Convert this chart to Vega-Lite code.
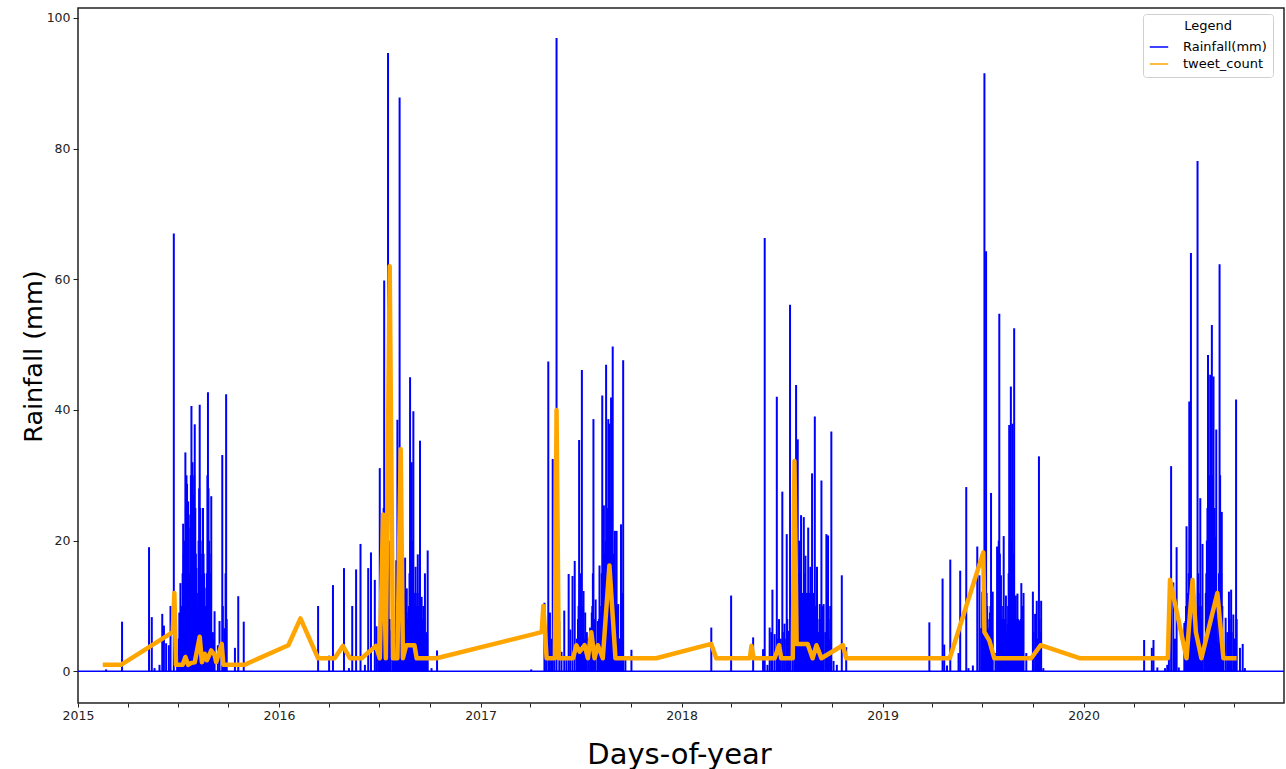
{
  "$schema": "https://vega.github.io/schema/vega-lite/v6.json",
  "width": 1206,
  "height": 695,
  "autosize": {"type": "none"},
  "padding": {"left": 78, "top": 8, "right": 2, "bottom": 66},
  "background": "white",
  "config": {
    "font": "DejaVu Sans",
    "view": {"stroke": "#222222", "strokeWidth": 1.5},
    "axis": {"domain": false, "grid": false, "tickColor": "#222222", "labelColor": "#222222", "titleColor": "#000000", "labelFontSize": 12.5, "labelFont": "DejaVu Sans", "titleFontWeight": "normal"}
  },
  "datasets": {
    "rain": [
      {"d":"2015-02-21","r":0.3},{"d":"2015-03-22","r":7.6},{"d":"2015-05-10","r":19},{"d":"2015-05-15","r":8.3},{"d":"2015-05-20","r":0.5},{"d":"2015-05-29","r":1},{"d":"2015-06-03","r":8.8},{"d":"2015-06-06","r":7},{"d":"2015-06-10","r":4.3},{"d":"2015-06-15","r":4},{"d":"2015-06-18","r":10},{"d":"2015-06-24","r":67},{"d":"2015-06-30","r":2},{"d":"2015-07-03","r":5},{"d":"2015-07-06","r":13.5},{"d":"2015-07-09","r":8},{"d":"2015-07-11","r":22.6},{"d":"2015-07-13","r":12},{"d":"2015-07-15","r":33.5},{"d":"2015-07-18","r":28.7},{"d":"2015-07-21","r":24},{"d":"2015-07-23","r":10},{"d":"2015-07-26","r":40.6},{"d":"2015-07-29","r":27},{"d":"2015-08-01","r":37.8},{"d":"2015-08-04","r":15.8},{"d":"2015-08-07","r":9},{"d":"2015-08-10","r":40.8},{"d":"2015-08-13","r":14.8},{"d":"2015-08-16","r":25},{"d":"2015-08-19","r":12.8},{"d":"2015-08-22","r":8.7},{"d":"2015-08-25","r":42.7},{"d":"2015-08-28","r":18},{"d":"2015-08-31","r":26.8},{"d":"2015-09-03","r":6},{"d":"2015-09-06","r":9.2},{"d":"2015-09-12","r":4},{"d":"2015-09-15","r":7.7},{"d":"2015-09-20","r":33.1},{"d":"2015-09-24","r":6.6},{"d":"2015-09-27","r":42.4},{"d":"2015-10-13","r":3.6},{"d":"2015-10-19","r":11.5},{"d":"2015-10-29","r":7.6},
      {"d":"2016-03-12","r":10},{"d":"2016-04-01","r":2.4},{"d":"2016-04-08","r":13.2},{"d":"2016-04-28","r":15.8},{"d":"2016-05-07","r":0.5},{"d":"2016-05-13","r":10},{"d":"2016-05-20","r":15.6},{"d":"2016-05-28","r":19.5},{"d":"2016-06-05","r":1},{"d":"2016-06-11","r":15.8},{"d":"2016-06-16","r":18.2},{"d":"2016-06-23","r":14},{"d":"2016-06-26","r":6.9},{"d":"2016-06-29","r":3},{"d":"2016-07-02","r":31.1},{"d":"2016-07-05","r":8},{"d":"2016-07-07","r":12},{"d":"2016-07-10","r":59.8},{"d":"2016-07-13","r":24.3},{"d":"2016-07-15","r":10},{"d":"2016-07-17","r":94.6},{"d":"2016-07-20","r":8},{"d":"2016-07-22","r":6.3},{"d":"2016-07-26","r":3.7},{"d":"2016-07-29","r":5},{"d":"2016-08-01","r":17},{"d":"2016-08-03","r":38.5},{"d":"2016-08-05","r":10},{"d":"2016-08-07","r":87.8},{"d":"2016-08-09","r":12},{"d":"2016-08-11","r":24},{"d":"2016-08-14","r":8},{"d":"2016-08-17","r":17.4},{"d":"2016-08-20","r":12.7},{"d":"2016-08-23","r":9},{"d":"2016-08-26","r":45},{"d":"2016-08-29","r":32},{"d":"2016-09-01","r":39.8},{"d":"2016-09-03","r":10},{"d":"2016-09-05","r":16},{"d":"2016-09-07","r":8},{"d":"2016-09-09","r":17.9},{"d":"2016-09-11","r":6},{"d":"2016-09-13","r":35.3},{"d":"2016-09-16","r":11.4},{"d":"2016-09-19","r":10},{"d":"2016-09-22","r":15},{"d":"2016-09-25","r":6},{"d":"2016-09-27","r":18.5},{"d":"2016-10-04","r":0.5},{"d":"2016-10-14","r":3.2},
      {"d":"2017-04-03","r":0.3},{"d":"2017-04-27","r":10.5},{"d":"2017-04-30","r":4},{"d":"2017-05-04","r":47.4},{"d":"2017-05-07","r":9},{"d":"2017-05-10","r":5},{"d":"2017-05-12","r":32.5},{"d":"2017-05-15","r":7.7},{"d":"2017-05-19","r":96.9},{"d":"2017-05-24","r":7.7},{"d":"2017-05-28","r":3},{"d":"2017-06-02","r":9.3},{"d":"2017-06-06","r":1.8},{"d":"2017-06-10","r":14.9},{"d":"2017-06-13","r":6.4},{"d":"2017-06-17","r":14.6},{"d":"2017-06-21","r":16.9},{"d":"2017-06-25","r":5},{"d":"2017-06-27","r":8},{"d":"2017-06-29","r":35.4},{"d":"2017-07-01","r":10},{"d":"2017-07-04","r":46.1},{"d":"2017-07-07","r":12.3},{"d":"2017-07-10","r":9},{"d":"2017-07-13","r":6},{"d":"2017-07-16","r":5},{"d":"2017-07-19","r":6.7},{"d":"2017-07-22","r":9},{"d":"2017-07-25","r":38.6},{"d":"2017-07-29","r":11},{"d":"2017-08-02","r":7.7},{"d":"2017-08-05","r":16.2},{"d":"2017-08-07","r":9},{"d":"2017-08-10","r":42.2},{"d":"2017-08-13","r":25.4},{"d":"2017-08-15","r":12},{"d":"2017-08-17","r":46.9},{"d":"2017-08-19","r":15},{"d":"2017-08-21","r":38.6},{"d":"2017-08-23","r":37.9},{"d":"2017-08-26","r":41.9},{"d":"2017-08-29","r":49.7},{"d":"2017-09-02","r":21.5},{"d":"2017-09-05","r":21.5},{"d":"2017-09-08","r":10.3},{"d":"2017-09-11","r":5},{"d":"2017-09-13","r":22.5},{"d":"2017-09-17","r":47.6},{"d":"2017-09-21","r":1.8},{"d":"2017-10-02","r":3.3},
      {"d":"2018-02-24","r":6.7},{"d":"2018-04-01","r":11.6},{"d":"2018-05-11","r":5.2},{"d":"2018-05-29","r":3.4},{"d":"2018-06-01","r":66.3},{"d":"2018-06-06","r":1},{"d":"2018-06-10","r":6.7},{"d":"2018-06-13","r":6},{"d":"2018-06-15","r":12.5},{"d":"2018-06-19","r":5.7},{"d":"2018-06-23","r":42},{"d":"2018-06-27","r":8},{"d":"2018-06-29","r":4.4},{"d":"2018-07-03","r":27.5},{"d":"2018-07-07","r":7.3},{"d":"2018-07-11","r":21},{"d":"2018-07-14","r":6.2},{"d":"2018-07-17","r":56.1},{"d":"2018-07-22","r":8.8},{"d":"2018-07-25","r":10},{"d":"2018-07-28","r":43.8},{"d":"2018-07-31","r":35.5},{"d":"2018-08-03","r":20},{"d":"2018-08-06","r":23.9},{"d":"2018-08-09","r":12},{"d":"2018-08-11","r":23.6},{"d":"2018-08-14","r":17.7},{"d":"2018-08-17","r":10},{"d":"2018-08-19","r":22},{"d":"2018-08-21","r":10},{"d":"2018-08-23","r":16},{"d":"2018-08-26","r":30.3},{"d":"2018-08-28","r":8},{"d":"2018-08-31","r":39},{"d":"2018-09-02","r":10},{"d":"2018-09-04","r":16},{"d":"2018-09-07","r":6},{"d":"2018-09-09","r":10.3},{"d":"2018-09-12","r":29.2},{"d":"2018-09-16","r":10.3},{"d":"2018-09-19","r":6},{"d":"2018-09-21","r":21},{"d":"2018-09-24","r":20.8},{"d":"2018-09-27","r":5},{"d":"2018-09-30","r":36.7},{"d":"2018-10-04","r":1.6},{"d":"2018-10-10","r":1},{"d":"2018-10-19","r":14.7},{"d":"2018-10-27","r":3.7},
      {"d":"2019-03-27","r":7.5},{"d":"2019-04-20","r":14.2},{"d":"2019-04-23","r":4.1},{"d":"2019-04-28","r":0.9},{"d":"2019-05-04","r":17.1},{"d":"2019-05-19","r":2.8},{"d":"2019-05-22","r":15.4},{"d":"2019-06-02","r":28.2},{"d":"2019-06-06","r":0.5},{"d":"2019-06-14","r":0.9},{"d":"2019-06-22","r":19.1},{"d":"2019-06-26","r":14.7},{"d":"2019-06-29","r":6.6},{"d":"2019-07-01","r":12.2},{"d":"2019-07-03","r":8},{"d":"2019-07-05","r":91.5},{"d":"2019-07-08","r":64.3},{"d":"2019-07-10","r":10},{"d":"2019-07-12","r":6.6},{"d":"2019-07-15","r":9},{"d":"2019-07-17","r":27.3},{"d":"2019-07-20","r":12.2},{"d":"2019-07-25","r":2.8},{"d":"2019-07-28","r":19.1},{"d":"2019-08-01","r":54.7},{"d":"2019-08-04","r":14.7},{"d":"2019-08-07","r":8},{"d":"2019-08-09","r":20.7},{"d":"2019-08-13","r":11.6},{"d":"2019-08-16","r":7.2},{"d":"2019-08-19","r":37.7},{"d":"2019-08-22","r":43.6},{"d":"2019-08-25","r":37.9},{"d":"2019-08-28","r":52.5},{"d":"2019-08-31","r":11.6},{"d":"2019-09-03","r":11.9},{"d":"2019-09-07","r":7.8},{"d":"2019-09-10","r":13.5},{"d":"2019-09-14","r":12},{"d":"2019-09-19","r":2.8},{"d":"2019-10-01","r":12.2},{"d":"2019-10-05","r":8.8},{"d":"2019-10-08","r":10.8},{"d":"2019-10-12","r":32.9},{"d":"2019-10-16","r":10.8},{"d":"2019-10-20","r":0.5},
      {"d":"2020-04-20","r":4.8},{"d":"2020-05-04","r":3.6},{"d":"2020-05-07","r":4.8},{"d":"2020-05-14","r":0.6},{"d":"2020-05-28","r":0.5},{"d":"2020-06-01","r":1},{"d":"2020-06-04","r":2.3},{"d":"2020-06-08","r":31.4},{"d":"2020-06-12","r":13.6},{"d":"2020-06-15","r":5},{"d":"2020-06-18","r":19},{"d":"2020-06-22","r":0.6},{"d":"2020-07-02","r":7.4},{"d":"2020-07-04","r":7.7},{"d":"2020-07-06","r":22.2},{"d":"2020-07-09","r":8},{"d":"2020-07-11","r":41.3},{"d":"2020-07-14","r":64},{"d":"2020-07-18","r":12},{"d":"2020-07-21","r":8},{"d":"2020-07-23","r":6.6},{"d":"2020-07-26","r":78.1},{"d":"2020-07-29","r":10},{"d":"2020-07-31","r":26.5},{"d":"2020-08-04","r":19.5},{"d":"2020-08-07","r":4.4},{"d":"2020-08-10","r":12},{"d":"2020-08-14","r":48.4},{"d":"2020-08-16","r":20},{"d":"2020-08-18","r":45.4},{"d":"2020-08-21","r":53},{"d":"2020-08-24","r":45.1},{"d":"2020-08-27","r":20.6},{"d":"2020-08-29","r":37},{"d":"2020-09-01","r":4.4},{"d":"2020-09-04","r":62.3},{"d":"2020-09-08","r":24.4},{"d":"2020-09-11","r":3},{"d":"2020-09-15","r":8.2},{"d":"2020-09-18","r":6},{"d":"2020-09-21","r":12.2},{"d":"2020-09-25","r":12.5},{"d":"2020-09-29","r":8.7},{"d":"2020-10-04","r":41.6},{"d":"2020-10-11","r":3.6},{"d":"2020-10-16","r":4.2},{"d":"2020-10-20","r":0.5},
      {"d":"2015-07-04","r":9},{"d":"2015-07-07","r":10},{"d":"2015-07-10","r":15},{"d":"2015-07-12","r":18},{"d":"2015-07-14","r":20},{"d":"2015-07-16","r":25},{"d":"2015-07-17","r":30},{"d":"2015-07-19","r":20},{"d":"2015-07-20","r":26},{"d":"2015-07-22","r":15},{"d":"2015-07-24","r":22},{"d":"2015-07-25","r":30},{"d":"2015-07-27","r":20},{"d":"2015-07-28","r":32},{"d":"2015-07-30","r":22},{"d":"2015-07-31","r":30},{"d":"2015-08-02","r":25},{"d":"2015-08-03","r":18},{"d":"2015-08-05","r":12},{"d":"2015-08-06","r":10},{"d":"2015-08-08","r":20},{"d":"2015-08-09","r":28},{"d":"2015-08-11","r":25},{"d":"2015-08-12","r":18},{"d":"2015-08-14","r":12},{"d":"2015-08-15","r":20},{"d":"2015-08-17","r":18},{"d":"2015-08-18","r":15},{"d":"2015-08-20","r":10},{"d":"2015-08-21","r":6},{"d":"2015-08-23","r":15},{"d":"2015-08-24","r":30},{"d":"2015-08-26","r":28},{"d":"2015-08-27","r":20},{"d":"2015-08-29","r":15},{"d":"2015-08-30","r":10},{"d":"2015-09-01","r":5},{"d":"2015-09-02","r":4},{"d":"2015-09-04","r":3},{"d":"2015-09-05","r":5},{"d":"2015-09-21","r":10},{"d":"2015-09-22","r":4},{"d":"2015-09-26","r":15},{"d":"2015-09-28","r":8},
      {"d":"2016-07-03","r":10},{"d":"2016-07-04","r":6},{"d":"2016-07-06","r":15},{"d":"2016-07-08","r":20},{"d":"2016-07-09","r":25},{"d":"2016-07-11","r":15},{"d":"2016-07-12","r":10},{"d":"2016-07-14","r":12},{"d":"2016-07-16","r":18},{"d":"2016-07-18","r":20},{"d":"2016-07-19","r":8},{"d":"2016-07-21","r":5},{"d":"2016-07-30","r":4},{"d":"2016-08-02","r":10},{"d":"2016-08-04","r":15},{"d":"2016-08-06","r":20},{"d":"2016-08-08","r":15},{"d":"2016-08-10","r":10},{"d":"2016-08-12","r":8},{"d":"2016-08-13","r":6},{"d":"2016-08-15","r":10},{"d":"2016-08-16","r":12},{"d":"2016-08-18","r":8},{"d":"2016-08-19","r":10},{"d":"2016-08-21","r":6},{"d":"2016-08-22","r":8},{"d":"2016-08-24","r":10},{"d":"2016-08-25","r":15},{"d":"2016-08-27","r":20},{"d":"2016-08-28","r":15},{"d":"2016-08-30","r":12},{"d":"2016-08-31","r":20},{"d":"2016-09-02","r":12},{"d":"2016-09-04","r":8},{"d":"2016-09-06","r":10},{"d":"2016-09-08","r":12},{"d":"2016-09-10","r":10},{"d":"2016-09-12","r":12},{"d":"2016-09-14","r":8},{"d":"2016-09-15","r":6},{"d":"2016-09-17","r":8},{"d":"2016-09-18","r":6},{"d":"2016-09-20","r":5},{"d":"2016-09-21","r":8},{"d":"2016-09-23","r":5},{"d":"2016-09-24","r":4},{"d":"2016-09-26","r":5},
      {"d":"2017-06-26","r":4},{"d":"2017-06-28","r":10},{"d":"2017-06-30","r":12},{"d":"2017-07-02","r":15},{"d":"2017-07-03","r":8},{"d":"2017-07-05","r":10},{"d":"2017-07-06","r":6},{"d":"2017-07-08","r":5},{"d":"2017-07-11","r":4},{"d":"2017-07-20","r":5},{"d":"2017-07-23","r":10},{"d":"2017-07-24","r":15},{"d":"2017-07-26","r":8},{"d":"2017-07-27","r":6},{"d":"2017-07-28","r":5},{"d":"2017-08-03","r":5},{"d":"2017-08-04","r":8},{"d":"2017-08-06","r":6},{"d":"2017-08-08","r":10},{"d":"2017-08-09","r":15},{"d":"2017-08-11","r":12},{"d":"2017-08-12","r":15},{"d":"2017-08-14","r":18},{"d":"2017-08-16","r":20},{"d":"2017-08-18","r":15},{"d":"2017-08-20","r":25},{"d":"2017-08-22","r":20},{"d":"2017-08-24","r":25},{"d":"2017-08-25","r":20},{"d":"2017-08-27","r":25},{"d":"2017-08-28","r":20},{"d":"2017-08-30","r":18},{"d":"2017-08-31","r":12},{"d":"2017-09-01","r":15},{"d":"2017-09-03","r":10},{"d":"2017-09-04","r":8},{"d":"2017-09-06","r":10},{"d":"2017-09-07","r":8},{"d":"2017-09-09","r":5},{"d":"2017-09-14","r":10},{"d":"2017-09-15","r":8},{"d":"2017-09-16","r":12},
      {"d":"2018-06-24","r":5},{"d":"2018-06-30","r":5},{"d":"2018-07-04","r":6},{"d":"2018-07-10","r":5},{"d":"2018-07-12","r":8},{"d":"2018-07-18","r":8},{"d":"2018-07-26","r":12},{"d":"2018-07-27","r":10},{"d":"2018-07-29","r":15},{"d":"2018-07-30","r":20},{"d":"2018-08-01","r":15},{"d":"2018-08-02","r":12},{"d":"2018-08-04","r":15},{"d":"2018-08-05","r":10},{"d":"2018-08-07","r":12},{"d":"2018-08-08","r":8},{"d":"2018-08-10","r":10},{"d":"2018-08-12","r":15},{"d":"2018-08-13","r":10},{"d":"2018-08-15","r":12},{"d":"2018-08-16","r":8},{"d":"2018-08-18","r":12},{"d":"2018-08-20","r":8},{"d":"2018-08-22","r":12},{"d":"2018-08-24","r":10},{"d":"2018-08-25","r":12},{"d":"2018-08-27","r":10},{"d":"2018-08-29","r":12},{"d":"2018-08-30","r":8},{"d":"2018-09-01","r":8},{"d":"2018-09-03","r":6},{"d":"2018-09-05","r":8},{"d":"2018-09-06","r":5},{"d":"2018-09-10","r":6},{"d":"2018-09-11","r":8},{"d":"2018-09-13","r":10},{"d":"2018-09-14","r":5},{"d":"2018-09-22","r":10},{"d":"2018-09-23","r":12},{"d":"2018-09-25","r":8},{"d":"2018-09-28","r":10},{"d":"2018-09-29","r":6},
      {"d":"2019-07-02","r":6},{"d":"2019-07-04","r":10},{"d":"2019-07-06","r":20},{"d":"2019-07-07","r":15},{"d":"2019-07-09","r":12},{"d":"2019-07-11","r":8},{"d":"2019-07-13","r":5},{"d":"2019-07-16","r":10},{"d":"2019-07-18","r":8},{"d":"2019-07-19","r":6},{"d":"2019-07-29","r":8},{"d":"2019-07-30","r":15},{"d":"2019-07-31","r":20},{"d":"2019-08-02","r":18},{"d":"2019-08-03","r":10},{"d":"2019-08-05","r":8},{"d":"2019-08-06","r":6},{"d":"2019-08-08","r":10},{"d":"2019-08-10","r":8},{"d":"2019-08-11","r":6},{"d":"2019-08-12","r":8},{"d":"2019-08-14","r":6},{"d":"2019-08-17","r":10},{"d":"2019-08-18","r":15},{"d":"2019-08-20","r":20},{"d":"2019-08-21","r":25},{"d":"2019-08-23","r":15},{"d":"2019-08-24","r":20},{"d":"2019-08-26","r":18},{"d":"2019-08-27","r":15},{"d":"2019-08-29","r":10},{"d":"2019-08-30","r":8},{"d":"2019-09-01","r":8},{"d":"2019-09-02","r":6},{"d":"2019-09-04","r":8},{"d":"2019-09-05","r":5},{"d":"2019-09-08","r":6},{"d":"2019-09-09","r":8},{"d":"2019-09-11","r":8},{"d":"2019-09-12","r":6},{"d":"2019-09-13","r":10},{"d":"2019-10-02","r":6},{"d":"2019-10-09","r":5},{"d":"2019-10-13","r":8},{"d":"2019-10-14","r":6},
      {"d":"2020-07-05","r":10},{"d":"2020-07-07","r":8},{"d":"2020-07-08","r":12},{"d":"2020-07-10","r":15},{"d":"2020-07-12","r":20},{"d":"2020-07-13","r":15},{"d":"2020-07-15","r":10},{"d":"2020-07-16","r":8},{"d":"2020-07-25","r":8},{"d":"2020-07-27","r":15},{"d":"2020-07-28","r":12},{"d":"2020-07-30","r":8},{"d":"2020-08-01","r":10},{"d":"2020-08-02","r":8},{"d":"2020-08-11","r":15},{"d":"2020-08-12","r":20},{"d":"2020-08-13","r":25},{"d":"2020-08-15","r":20},{"d":"2020-08-17","r":30},{"d":"2020-08-19","r":20},{"d":"2020-08-20","r":25},{"d":"2020-08-22","r":30},{"d":"2020-08-23","r":20},{"d":"2020-08-25","r":15},{"d":"2020-08-26","r":25},{"d":"2020-08-28","r":15},{"d":"2020-08-30","r":10},{"d":"2020-09-02","r":8},{"d":"2020-09-03","r":15},{"d":"2020-09-05","r":30},{"d":"2020-09-06","r":20},{"d":"2020-09-07","r":15},{"d":"2020-09-09","r":10},{"d":"2020-09-19","r":5},{"d":"2020-09-22","r":8},{"d":"2020-09-23","r":6},{"d":"2020-09-26","r":6},{"d":"2020-09-30","r":5},{"d":"2020-10-02","r":5},{"d":"2020-10-05","r":8}
    ],
    "tweets": [
      {"d":"2015-02-15","n":1},{"d":"2015-03-20","n":1},{"d":"2015-06-22","n":6},{"d":"2015-06-25","n":12},{"d":"2015-06-28","n":1},{"d":"2015-07-10","n":1},{"d":"2015-07-15","n":2.2},{"d":"2015-07-20","n":1},{"d":"2015-07-26","n":1.3},{"d":"2015-08-01","n":1.4},{"d":"2015-08-10","n":5.3},{"d":"2015-08-14","n":1.4},{"d":"2015-08-19","n":2.7},{"d":"2015-08-23","n":1.7},{"d":"2015-08-31","n":3.2},{"d":"2015-09-06","n":2.5},{"d":"2015-09-09","n":1.4},{"d":"2015-09-19","n":4.2},{"d":"2015-09-22","n":1},{"d":"2015-10-30","n":1},
      {"d":"2016-01-18","n":4},{"d":"2016-02-09","n":8.1},{"d":"2016-03-12","n":2},{"d":"2016-04-11","n":2},{"d":"2016-04-26","n":3.9},{"d":"2016-05-09","n":2},{"d":"2016-05-30","n":2},{"d":"2016-06-25","n":3.9},{"d":"2016-07-02","n":2},{"d":"2016-07-08","n":24},{"d":"2016-07-13","n":2},{"d":"2016-07-20","n":62},{"d":"2016-07-26","n":2},{"d":"2016-08-03","n":2},{"d":"2016-08-09","n":34},{"d":"2016-08-13","n":2},{"d":"2016-08-19","n":4},{"d":"2016-09-03","n":4},{"d":"2016-09-07","n":2},{"d":"2016-10-13","n":2},
      {"d":"2017-04-22","n":6},{"d":"2017-04-25","n":10},{"d":"2017-05-01","n":2},{"d":"2017-05-16","n":2},{"d":"2017-05-19","n":40},{"d":"2017-05-23","n":2},{"d":"2017-06-18","n":2},{"d":"2017-06-24","n":4},{"d":"2017-06-30","n":3},{"d":"2017-07-09","n":4},{"d":"2017-07-15","n":2},{"d":"2017-07-21","n":6},{"d":"2017-07-27","n":2},{"d":"2017-08-02","n":4},{"d":"2017-08-11","n":2},{"d":"2017-08-23","n":16.2},{"d":"2017-09-03","n":2},{"d":"2017-11-16","n":2},
      {"d":"2018-02-24","n":4.2},{"d":"2018-03-05","n":2},{"d":"2018-05-05","n":2},{"d":"2018-05-08","n":3.9},{"d":"2018-05-12","n":2},{"d":"2018-06-19","n":2},{"d":"2018-06-27","n":4},{"d":"2018-07-01","n":2},{"d":"2018-07-22","n":2},{"d":"2018-07-25","n":32.2},{"d":"2018-07-29","n":4.2},{"d":"2018-08-18","n":4.2},{"d":"2018-08-27","n":2},{"d":"2018-09-03","n":4},{"d":"2018-09-12","n":2},{"d":"2018-10-21","n":4},{"d":"2018-10-27","n":2},
      {"d":"2019-05-03","n":2},{"d":"2019-07-03","n":18.2},{"d":"2019-07-05","n":6},{"d":"2019-07-14","n":4.7},{"d":"2019-07-23","n":2},{"d":"2019-09-28","n":2},{"d":"2019-10-15","n":4},{"d":"2019-12-26","n":2},
      {"d":"2020-06-02","n":2},{"d":"2020-06-06","n":14},{"d":"2020-07-06","n":2},{"d":"2020-07-17","n":14},{"d":"2020-07-23","n":6},{"d":"2020-08-02","n":2},{"d":"2020-08-31","n":12},{"d":"2020-09-11","n":2},{"d":"2020-10-05","n":2}
    ]
  },
  "layer": [
    {
      "data": {"name": "rain"},
      "mark": {"type": "rule", "strokeWidth": 2},
      "encoding": {
        "x": {
          "field": "d", "type": "temporal",
          "scale": {"type": "utc", "domain": [{"year": 2015, "month": 1, "date": 1, "utc": true}, {"year": 2020, "month": 12, "date": 30, "utc": true}]},
          "axis": {
            "tickCount": {"interval": "month", "step": 3},
            "labelExpr": "utcmonth(datum.value) == 0 ? utcFormat(datum.value, '%Y') : ''",
            "labelOverlap": false, "labelFlush": false,
            "tickSize": 4, "labelPadding": 2,
            "title": "Days-of-year", "titleFontSize": 29, "titleFont": "DejaVu Sans",
            "titleX": 601, "titleY": 51, "titleBaseline": "middle", "titleAlign": "center"
          }
        },
        "y": {
          "field": "r", "type": "quantitative",
          "scale": {"domain": [-4.84, 101.5], "nice": false, "zero": false},
          "axis": {
            "values": [0, 20, 40, 60, 80, 100],
            "tickSize": 5, "labelPadding": 3,
            "title": "Rainfall (mm)", "titleFontSize": 25.5, "titleFont": "DejaVu Sans",
            "titleX": -45, "titleY": 348, "titleAngle": -90, "titleBaseline": "middle", "titleAlign": "center"
          }
        },
        "y2": {"datum": 0},
        "color": {
          "datum": "Rainfall(mm)",
          "scale": {"domain": ["Rainfall(mm)", "tweet_count"], "range": ["#0000ff", "#ffa500"]},
          "legend": {
            "title": "Legend", "orient": "none", "legendX": 1065, "legendY": 6,
            "symbolType": "stroke", "symbolStrokeWidth": 1.5, "symbolSize": 340,
            "titleAnchor": "middle", "titleFontWeight": "normal", "titleFontSize": 13, "labelFontSize": 13,
            "titleColor": "#000000", "labelColor": "#000000", "titleFont": "DejaVu Sans", "labelFont": "DejaVu Sans",
            "padding": 6, "strokeColor": "#d0d0d0", "fillColor": "white", "cornerRadius": 3,
            "rowPadding": 0, "labelOffset": 14, "titlePadding": 4
          }
        }
      }
    },
    {
      "data": {"values": [{"z": 0}]},
      "mark": {"type": "rule", "color": "#0000ff", "strokeWidth": 1.5},
      "encoding": {"y": {"field": "z", "type": "quantitative"}}
    },
    {
      "data": {"name": "tweets"},
      "mark": {"type": "line", "strokeWidth": 4.5, "strokeJoin": "round"},
      "encoding": {
        "x": {"field": "d", "type": "temporal"},
        "y": {"field": "n", "type": "quantitative"},
        "color": {"datum": "tweet_count"}
      }
    }
  ]
}
